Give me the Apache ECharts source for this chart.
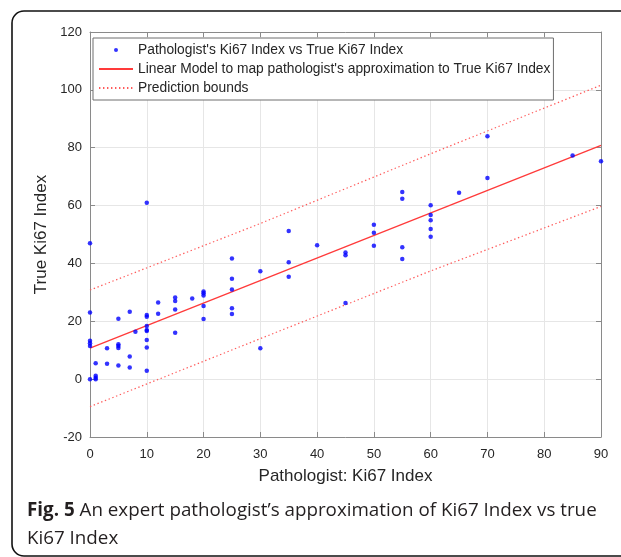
<!DOCTYPE html>
<html>
<head>
<meta charset="utf-8">
<script src="https://cdn.jsdelivr.net/npm/echarts@6/dist/echarts.min.js"></script>
<style>
  html, body { margin: 0; padding: 0; background: #fff; }
  #chart { width: 621px; height: 557px; }
</style>
</head>
<body>
<div id="chart"></div>
<script>
// pathologist estimate vs true Ki67 index
const pathologist = [
  0, 0, 0, 0, 0, 0,
  1, 1, 1, 1,
  3, 3,
  5, 5, 5, 5, 5,
  7, 7, 7,
  8,
  10, 10, 10, 10, 10, 10, 10, 10, 10,
  12, 12,
  15, 15, 15, 15,
  18,
  20, 20, 20, 20, 20,
  25, 25, 25, 25, 25,
  30, 30,
  35, 35, 35,
  40,
  45, 45, 45,
  50, 50, 50,
  55, 55, 55, 55,
  60, 60, 60, 60, 60,
  65,
  70, 70,
  85,
  90
];
const trueKi67 = [
  47, 23, 13.3, 12.4, 11.5, 0,
  5.5, 1.2, 0.5, 0,
  10.7, 5.3,
  20.9, 12.1, 11.5, 10.8, 4.7,
  23.3, 7.8, 4.0,
  16.4,
  61, 22.2, 21.6, 18.4, 17, 16.6, 13.5, 10.9, 2.9,
  26.5, 22.6,
  28.2, 27.0, 24.1, 16,
  27.9,
  30.3, 29.7, 28.9, 25.3, 20.8,
  41.7, 34.7, 31, 24.5, 22.5,
  37.3, 10.7,
  51.2, 40.4, 35.4,
  46.3,
  43.8, 42.8, 26.3,
  53.4, 50.6, 46.1,
  64.7, 62.4, 45.6, 41.5,
  60.1, 56.7, 54.9, 51.9, 49.2,
  64.4,
  84, 69.5,
  77.3,
  75.3
];

// fitted model and prediction bounds (read at a few x positions)
const fitX = [0, 90];
const fitY = [10.7, 80.8];
const boundX = [0, 30, 60, 90];
const upperBound = [30.8, 53.8, 77.9, 101.6];
const lowerBound = [-9.5, 14.0, 37.4, 59.7];

const xTicks = { min: 0, max: 90, interval: 10 };
const yTicks = { min: -20, max: 120, interval: 20 };

const nameDots = "Pathologist's Ki67 Index vs True Ki67 Index";
const nameFit = "Linear Model to map pathologist's approximation to True Ki67 Index";
const nameBounds = "Prediction bounds";

const zip = (xs, ys) => xs.map((x, i) => [x, ys[i]]);

const axisGray = '#8a8a8a';
const textGray = '#262626';
const font = 'Liberation Sans, Arial, sans-serif';

const chart = echarts.init(document.getElementById('chart'));

function baseAxis(extra) {
  return Object.assign({
    type: 'value',
    axisLine: { show: true, onZero: false, lineStyle: { color: axisGray, width: 1 } },
    axisTick: { show: true, inside: true, length: 5, lineStyle: { color: axisGray } },
    splitLine: { show: false },
    axisLabel: { show: false }
  }, extra);
}

chart.setOption({
  animation: false,
  backgroundColor: '#fff',
  textStyle: { fontFamily: font },
  grid: { left: 90, top: 32, width: 511, height: 405, containLabel: false },
  legend: {
    orient: 'vertical',
    left: 93,
    top: 38,
    padding: [5, 3, 5, 5],
    itemWidth: 34,
    itemHeight: 14,
    itemGap: 5,
    backgroundColor: '#fff',
    borderColor: '#6e6e6e',
    borderWidth: 1,
    borderRadius: 0,
    textStyle: { fontFamily: font, fontSize: 13.8, color: textGray },
    data: [
      {
        name: nameDots,
        icon: 'path://M0,0M34,14M15,7a2,2 0 1,0 4,0a2,2 0 1,0 -4,0Z',
        itemStyle: { color: '#0000ff' }
      },
      { name: nameFit, itemStyle: { opacity: 0 } },
      { name: nameBounds, itemStyle: { opacity: 0 } }
    ]
  },
  xAxis: [
    baseAxis(Object.assign({
      position: 'bottom',
      name: 'Pathologist: Ki67 Index',
      nameLocation: 'middle',
      nameGap: 31,
      nameTextStyle: { fontFamily: font, fontSize: 17, color: textGray },
      axisLabel: { show: true, margin: 11, fontSize: 13, color: textGray, fontFamily: font },
      splitLine: { show: true, lineStyle: { color: '#e6e6e6', width: 1 } }
    }, xTicks)),
    baseAxis(Object.assign({ position: 'top' }, xTicks))
  ],
  yAxis: [
    baseAxis(Object.assign({
      position: 'left',
      name: 'True Ki67 Index',
      nameLocation: 'middle',
      nameGap: 37,
      nameTextStyle: { fontFamily: font, fontSize: 17, color: textGray },
      axisLabel: { show: true, margin: 8, fontSize: 13, color: textGray, fontFamily: font },
      splitLine: { show: true, lineStyle: { color: '#e6e6e6', width: 1 } }
    }, yTicks)),
    baseAxis(Object.assign({ position: 'right' }, yTicks))
  ],
  series: [
    {
      name: nameDots,
      type: 'scatter',
      symbol: 'circle',
      symbolSize: 4.5,
      itemStyle: { color: '#0000ff' },
      data: zip(pathologist, trueKi67),
      z: 3
    },
    {
      name: nameFit,
      type: 'line',
      symbol: 'none',
      lineStyle: { color: '#ff3a3a', width: 1.3, type: 'solid' },
      itemStyle: { color: '#ff3a3a' },
      data: zip(fitX, fitY),
      z: 2
    },
    {
      name: nameBounds,
      type: 'line',
      symbol: 'none',
      lineStyle: { color: '#ff5a5a', width: 1.2, type: [1.4, 2.6] },
      itemStyle: { color: '#ff5a5a' },
      data: zip(boundX, upperBound),
      z: 2
    },
    {
      name: nameBounds,
      type: 'line',
      symbol: 'none',
      lineStyle: { color: '#ff5a5a', width: 1.2, type: [1.4, 2.6] },
      itemStyle: { color: '#ff5a5a' },
      data: zip(boundX, lowerBound),
      z: 2
    }
  ],
  graphic: [
    {
      type: 'rect',
      silent: true,
      shape: { x: 12, y: 11, width: 700, height: 545, r: 12 },
      style: { fill: 'none', stroke: '#111', lineWidth: 1.6 },
      z: 100
    },
    {
      type: 'text',
      left: 27,
      top: 501,
      style: {
        text: '{b|Fig. 5} An expert pathologist\u2019s approximation of Ki67 Index vs true',
        font: '18.8px "Open Sans", sans-serif',
        fill: '#231f20',
        rich: {
          b: { fontFamily: 'Open Sans', fontSize: 18.8, fontWeight: 'bold', fill: '#231f20' }
        }
      }
    },
    {
      type: 'text',
      left: 27,
      top: 529,
      style: {
        text: 'Ki67 Index',
        font: '18.8px "Open Sans", sans-serif',
        fill: '#231f20'
      }
    }
  ]
});
</script>
</body>
</html>
